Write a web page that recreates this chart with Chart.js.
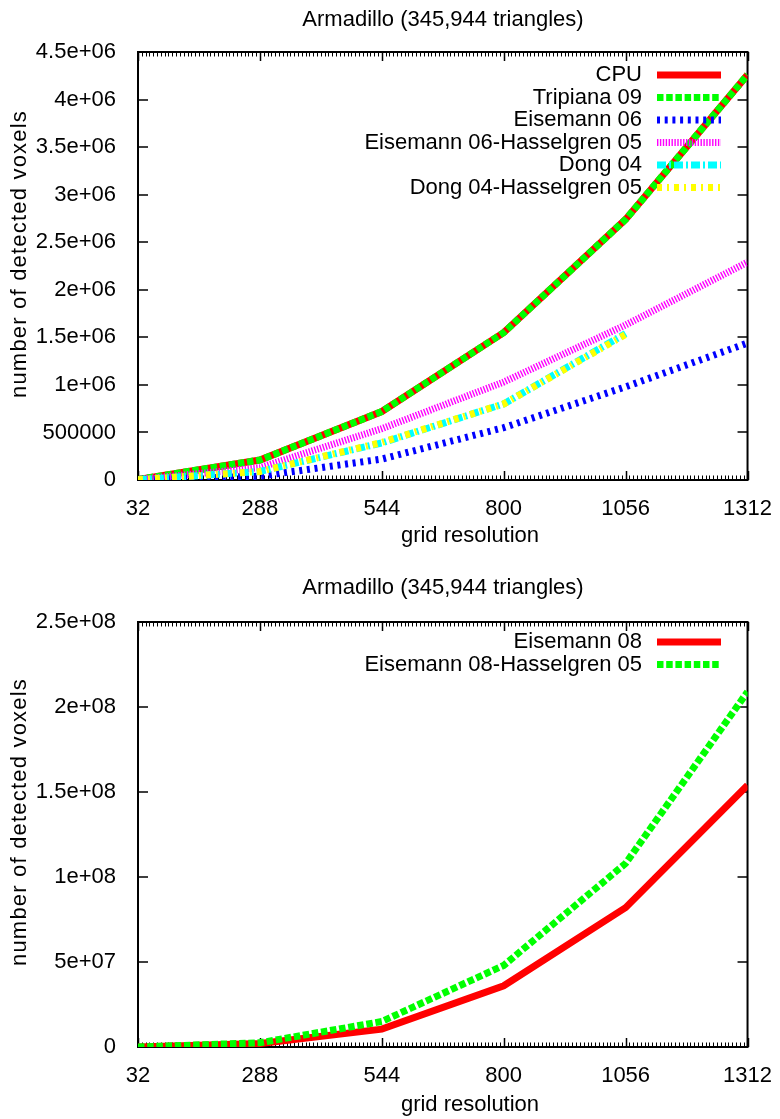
<!DOCTYPE html>
<html><head><meta charset="utf-8">
<script src="https://cdn.jsdelivr.net/npm/chart.js@4/dist/chart.umd.min.js"></script>
<style>
html,body{margin:0;padding:0;background:#fff;}
canvas{position:absolute;left:0;}
#c1{top:0;}
#c2{top:560px;}
</style></head><body>
<canvas id="c1"></canvas>
<canvas id="c2"></canvas>
<script>
// ---------- data ----------
const gridRes = [32, 288, 544, 800, 1056, 1312];
const xTickValues = [32, 288, 544, 800, 1056, 1312];
const xTickLabels = ['32', '288', '544', '800', '1056', '1312'];

const chartTitle = 'Armadillo (345,944 triangles)';
const xTitle = 'grid resolution';
const yTitle = 'number of detected voxels';

// top chart
const cpu          = [5000, 210000, 720000, 1550000, 2740000, 4260000];
const tripiana09   = [5000, 210000, 720000, 1550000, 2740000, 4260000];
const eisemann06   = [2000, 40000, 220000, 550000, 980000, 1440000];
const eisemann06H05 = [5000, 130000, 540000, 1030000, 1630000, 2290000];
const dong04       = [3000, 90000, 390000, 800000, 1540000, null];
const dong04H05    = [3000, 90000, 395000, 800000, 1530000, null];
const topYTickLabels = ['0', '500000', '1e+06', '1.5e+06', '2e+06', '2.5e+06', '3e+06', '3.5e+06', '4e+06', '4.5e+06'];

// bottom chart
const eisemann08    = [0, 2000000, 10500000, 36000000, 82000000, 154000000];
const eisemann08H05 = [0, 2500000, 15000000, 48000000, 108000000, 209000000];
const bottomYTickLabels = ['0', '5e+07', '1e+08', '1.5e+08', '2e+08', '2.5e+08'];

// ---------- styling ----------
const FONT = "'Liberation Sans', Arial, Helvetica, sans-serif";
const FSIZE = 22;
Chart.defaults.font.family = FONT;
Chart.defaults.font.size = FSIZE;
Chart.defaults.color = '#000';

function ds(label, data, color, dash, order) {
  return {
    label, data, borderColor: color, backgroundColor: color,
    borderWidth: 7, borderDash: dash, borderCapStyle: 'butt', borderJoinStyle: 'miter',
    pointRadius: 0, pointHoverRadius: 0, tension: 0, fill: false, spanGaps: false, order
  };
}

const framePlugin = {
  id: 'frame',
  beforeDatasetsDraw(chart) {
    const {ctx, chartArea: a} = chart;
    const x = chart.scales.x, y = chart.scales.y;
    ctx.save();
    ctx.strokeStyle = '#000';
    ctx.lineWidth = 1;
    ctx.beginPath();
    for (let v = x.min; v <= x.max + 0.01; v += 8) {
      const px = Math.round(x.getPixelForValue(v)) + 0.5;
      ctx.moveTo(px, a.bottom); ctx.lineTo(px, a.bottom - 4.5);
      ctx.moveTo(px, a.top); ctx.lineTo(px, a.top + 4.5);
    }
    ctx.stroke();
    ctx.lineWidth = 1.5;
    ctx.beginPath();
    x.ticks.forEach(t => {
      const px = Math.round(x.getPixelForValue(t.value)) + 0.5;
      ctx.moveTo(px, a.bottom); ctx.lineTo(px, a.bottom - 9);
      ctx.moveTo(px, a.top); ctx.lineTo(px, a.top + 9);
    });
    y.ticks.forEach(t => {
      const py = Math.round(y.getPixelForValue(t.value));
      ctx.moveTo(a.left, py); ctx.lineTo(a.left + 10, py);
      ctx.moveTo(a.right, py); ctx.lineTo(a.right - 10, py);
    });
    ctx.stroke();
    ctx.lineWidth = 2;
    ctx.strokeRect(a.left, a.top, a.right - a.left, a.bottom - a.top);
    ctx.restore();
  }
};

const textPlugin = {
  id: 'texts',
  afterDraw(chart, args, o) {
    const {ctx} = chart;
    ctx.save();
    ctx.fillStyle = '#000';
    ctx.font = FSIZE + 'px ' + FONT;
    ctx.textAlign = 'center';
    ctx.textBaseline = 'middle';
    ctx.fillText(chartTitle, o.titleX, o.titleY);
    ctx.fillText(xTitle, o.xTitleX, o.xTitleY);
    ctx.translate(o.yTitleX, o.yTitleY);
    ctx.rotate(-Math.PI / 2);
    if ('letterSpacing' in ctx) {
      ctx.letterSpacing = '1.2px';
      ctx.fillText(yTitle, 0, 0);
    } else {
      ctx.scale(1.11, 1);
      ctx.fillText(yTitle, 0, 0);
    }
    ctx.restore();
  }
};

const keyPlugin = {
  id: 'key',
  afterDatasetsDraw(chart, args, o) {
    const {ctx} = chart;
    ctx.save();
    ctx.font = FSIZE + 'px ' + FONT;
    ctx.textAlign = 'right';
    ctx.textBaseline = 'middle';
    ctx.fillStyle = '#000';
    chart.data.datasets.forEach((d, i) => {
      const yy = o.top + i * o.step;
      ctx.fillText(d.label, o.textRight, yy);
      ctx.save();
      ctx.strokeStyle = d.borderColor;
      ctx.lineWidth = d.borderWidth;
      ctx.lineCap = 'butt';
      ctx.setLineDash(d.borderDash || []);
      ctx.beginPath();
      ctx.moveTo(o.x0, yy); ctx.lineTo(o.x1, yy);
      ctx.stroke();
      ctx.restore();
    });
    ctx.restore();
  }
};

function makeChart(id, h, datasets, yMax, yStep, yLabels, padTop, xAxisH, texts, key) {
  const cv = document.getElementById(id);
  cv.width = 780; cv.height = h;
  cv.style.width = '780px'; cv.style.height = h + 'px';
  return new Chart(cv, {
    type: 'line',
    data: { labels: gridRes, datasets },
    plugins: [framePlugin, textPlugin, keyPlugin],
    options: {
      responsive: false, animation: false, devicePixelRatio: 1,
      layout: { padding: { top: padTop, right: 32, left: 0, bottom: 0 } },
      plugins: {
        legend: { display: false }, title: { display: false }, tooltip: { enabled: false },
        texts, key
      },
      scales: {
        x: {
          type: 'linear', min: 32, max: 1312,
          grid: { display: false }, border: { display: false },
          afterBuildTicks: s => { s.ticks = xTickValues.map(v => ({ value: v })); },
          afterFit: s => { s.height = xAxisH; },
          ticks: { padding: 8, maxRotation: 0, autoSkip: false,
            callback: v => { const i = xTickValues.indexOf(v); return i >= 0 ? xTickLabels[i] : ''; } }
        },
        y: {
          type: 'linear', min: 0, max: yMax,
          grid: { display: false }, border: { display: false },
          afterFit: s => { s.width = 138; },
          ticks: { stepSize: yStep, padding: 14, autoSkip: false,
            callback: v => yLabels[Math.round(v / yStep)] }
        }
      }
    }
  });
}

function xy(arr) { return arr.map((v, i) => ({ x: gridRes[i], y: v })); }

makeChart('c1', 560, [
  ds('CPU', xy(cpu), '#ff0000', [], 6),
  ds('Tripiana 09', xy(tripiana09), '#00ff00', [6.5, 2.7], 5),
  ds('Eisemann 06', xy(eisemann06), '#0000ff', [3, 4.7], 4),
  ds('Eisemann 06-Hasselgren 05', xy(eisemann06H05), '#ff00ff', [1.4, 1.5], 3),
  ds('Dong 04', xy(dong04), '#00ffff', [9, 3, 2, 3], 2),
  ds('Dong 04-Hasselgren 05', xy(dong04H05), '#ffff00', [5, 5, 2, 5], 1)
], 4500000, 500000, topYTickLabels, 52, 80,
  { titleX: 443, titleY: 20, xTitleX: 470, xTitleY: 536, yTitleX: 20, yTitleY: 254 },
  { top: 75, step: 22.5, textRight: 642, x0: 657, x1: 721 });

makeChart('c2', 559, [
  ds('Eisemann 08', xy(eisemann08), '#ff0000', [], 2),
  ds('Eisemann 08-Hasselgren 05', xy(eisemann08H05), '#00ff00', [6.5, 2.7], 1)
], 250000000, 50000000, bottomYTickLabels, 62, 72,
  { titleX: 443, titleY: 28, xTitleX: 470, xTitleY: 545, yTitleX: 20, yTitleY: 262 },
  { top: 82, step: 22.5, textRight: 642, x0: 657, x1: 721 });
</script>
</body></html>
